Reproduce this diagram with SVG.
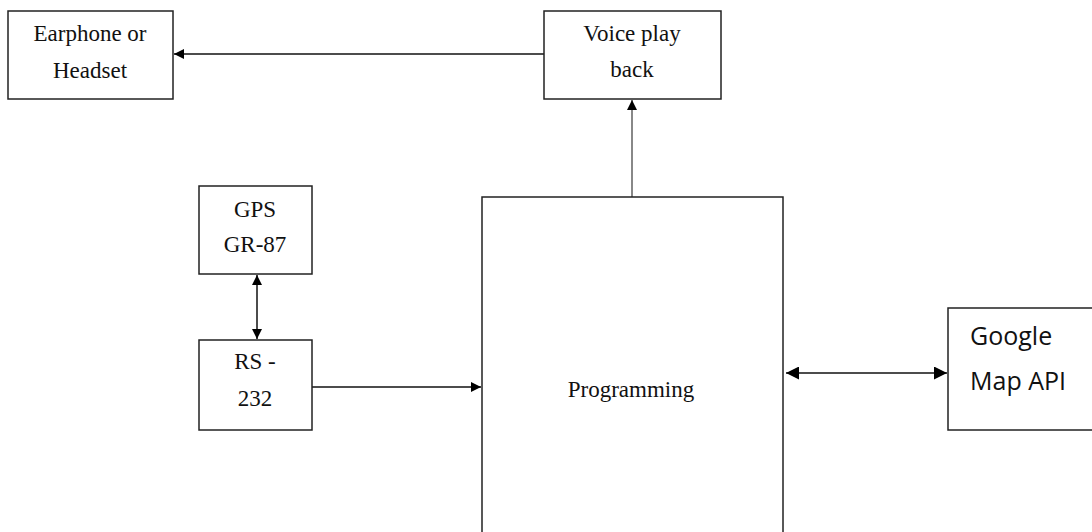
<svg xmlns="http://www.w3.org/2000/svg" width="1092" height="532" viewBox="0 0 1092 532">
<style>
.box{fill:#fff;stroke:#222;stroke-width:1.5}
.t{font-family:"Liberation Serif","Times New Roman",serif;font-size:23px;fill:#111;text-anchor:middle}
.s{font-family:"Open Sans","Liberation Sans",sans-serif;font-size:25px;fill:#111}
.c{stroke:#111;stroke-width:1.5;fill:none}
</style>
<defs>
<marker id="ah" viewBox="0 0 10 10" refX="10" refY="5" markerWidth="12" markerHeight="10" markerUnits="userSpaceOnUse" orient="auto-start-reverse"><path d="M0,0L10,5L0,10z" fill="#000"/></marker>
<marker id="ahb" viewBox="0 0 10 10" refX="10" refY="5" markerWidth="14" markerHeight="13" markerUnits="userSpaceOnUse" orient="auto-start-reverse"><path d="M0,0L10,5L0,10z" fill="#000"/></marker>
</defs>
<rect width="1092" height="532" fill="#fff"/>
<g id="connectors">
<line class="c" x1="544" y1="54" x2="174" y2="54" marker-end="url(#ah)"/>
<line x1="632" y1="197" x2="632" y2="100" stroke="#888" stroke-width="2" marker-end="url(#ah)"/>
<line class="c" x1="257" y1="275" x2="257" y2="339" marker-start="url(#ah)" marker-end="url(#ah)"/>
<line class="c" x1="312" y1="387" x2="481" y2="387" marker-end="url(#ah)"/>
<line class="c" stroke-width="2.5" x1="786" y1="373" x2="947" y2="373" marker-start="url(#ahb)" marker-end="url(#ahb)"/>
</g>
<g id="earphone">
<rect class="box" x="8" y="11" width="165" height="88"/>
<text class="t" x="90" y="41">Earphone or</text>
<text class="t" x="90" y="78">Headset</text>
</g>
<g id="voice">
<rect class="box" x="544" y="11" width="177" height="88"/>
<text class="t" x="632" y="41">Voice play</text>
<text class="t" x="632" y="77">back</text>
</g>
<g id="gps">
<rect class="box" x="199" y="186" width="113" height="88"/>
<text class="t" x="255" y="217">GPS</text>
<text class="t" x="255" y="252">GR-87</text>
</g>
<g id="rs232">
<rect class="box" x="199" y="340" width="113" height="90"/>
<text class="t" x="255" y="369">RS -</text>
<text class="t" x="255" y="406">232</text>
</g>
<g id="programming">
<rect class="box" x="482" y="197" width="301" height="340"/>
<text class="t" x="631" y="397">Programming</text>
</g>
<g id="google">
<rect class="box" x="948" y="308" width="150" height="122"/>
<text class="s" x="970" y="345">Google</text>
<text class="s" x="970" y="390">Map API</text>
</g>
</svg>
